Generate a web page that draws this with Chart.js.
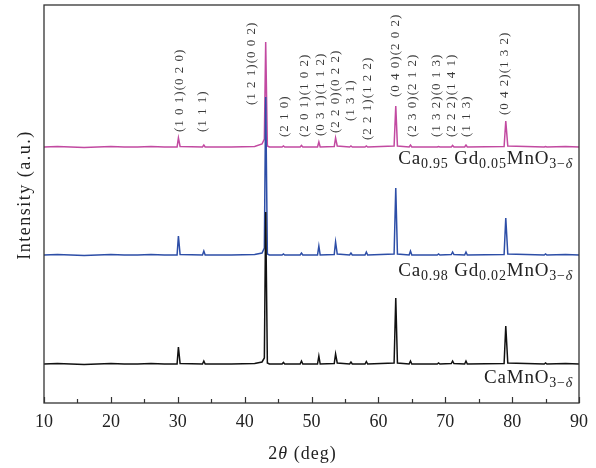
<!DOCTYPE html>
<html>
<head>
<meta charset="utf-8">
<script src="https://cdn.jsdelivr.net/npm/chart.js@4"></script>
<style>
  html, body { margin: 0; padding: 0; background: #fff; }
  #wrap { width: 596px; height: 468px; position: relative; }
</style>
</head>
<body>
<div id="wrap"><canvas id="c" width="596" height="468"></canvas></div>
<script>
// ---- data (2θ in degrees, intensity in arbitrary units, stacked traces) ----
const twoTheta = [10, 12, 14, 16, 18, 20, 22, 24, 26, 28, 29.9, 30.1, 30.35, 33.7, 33.9, 34.1, 38, 41.5, 42.6, 42.95, 43.15, 43.4, 43.7,
  45.6, 45.8, 46.0, 48.3, 48.5, 48.7, 50.9, 51.1, 51.3, 53.4, 53.6, 53.85, 55.7, 55.9, 56.1, 58.0, 58.2, 58.4,
  62.35, 62.6, 62.85, 64.6, 64.8, 65.0, 68.8, 69.0, 69.2, 70.9, 71.1, 71.3, 72.9, 73.1, 73.3, 78.8, 79.05, 79.35,
  84.8, 85.0, 85.2, 88, 90];

const caMnO3 = [39, 39.5, 39, 38.5, 39, 39.5, 39, 39, 39.5, 39, 39, 56, 39.5, 39, 42, 39, 39, 39.5, 41, 45, 191, 40, 39,
  39, 40.5, 39, 39, 42, 39, 39, 47, 39, 39.5, 49, 40, 39, 41, 39, 39, 41.5, 39,
  40, 105, 40, 39, 42, 39, 39, 40, 39, 39.5, 42, 39.5, 39, 42, 39, 39.5, 77, 40,
  39, 40, 39, 39.5, 39];

const ca098Gd002 = [148, 148.5, 148, 147.5, 148, 148.5, 148, 148, 148.5, 148, 148, 167, 148.5, 148, 152, 148, 148, 148.5, 150, 155, 306, 149, 148,
  148, 149, 148, 148, 150, 148, 148, 157, 148, 148.5, 161, 149, 148, 150, 148, 148, 151, 148,
  149, 215, 149, 148, 152, 148, 148, 149, 148, 148.5, 151, 148.5, 148, 151, 148, 148.5, 185, 149,
  148, 149, 148, 148.5, 148];

const ca095Gd005 = [256, 256.5, 256, 255.5, 256, 256.5, 256, 256, 256.5, 256, 256, 265, 256.5, 256, 258, 256, 256, 256.5, 259, 264, 361, 257, 256,
  256, 257, 256, 256, 257.5, 256, 256, 261, 256, 256.5, 265, 257, 256, 257, 256, 256, 257, 256,
  257, 297, 257, 256, 258, 256, 256, 256.5, 256, 256, 257.5, 256, 256, 258, 256, 256.5, 282, 257,
  256, 256.5, 256, 256.5, 256];

const xTickValues = [10, 20, 30, 40, 50, 60, 70, 80, 90];

// Miller index annotations
const hklLabels = ['(1 0 1)(0 2 0)', '(1 1 1)', '(1 2 1)(0 0 2)', '(2 1 0)', '(2 0 1)(1 0 2)', '(0 3 1)(1 1 2)',
  '(2 2 0)(0 2 2)', '(1 3 1)', '(2 2 1)(1 2 2)', '(0 4 0)(2 0 2)', '(2 3 0)(2 1 2)', '(1 3 2)(0 1 3)',
  '(2 2 2)(1 4 1)', '(1 1 3)', '(0 4 2)(1 3 2)'];
const hklAngle = [30.2, 33.75, 41.0, 45.9, 49.0, 51.4, 53.6, 55.9, 58.4, 62.6, 65.1, 68.7, 70.9, 73.2, 78.8];
const hklStart = [271, 271, 298, 266, 266, 267, 270, 282, 263, 306, 266, 266, 266, 266, 288];

// sample names (rich text parts: [text, isSub, isItalic])
const sampleNames = [
  [['Ca', 0, 0], ['0.95', 1, 0], [' Gd', 0, 0], ['0.05', 1, 0], ['MnO', 0, 0], ['3−', 1, 0], ['δ', 1, 1]],
  [['Ca', 0, 0], ['0.98', 1, 0], [' Gd', 0, 0], ['0.02', 1, 0], ['MnO', 0, 0], ['3−', 1, 0], ['δ', 1, 1]],
  [['CaMnO', 0, 0], ['3−', 1, 0], ['δ', 1, 1]]
];
const sampleNameY = [239, 127, 20];

const SERIF = "'Liberation Serif', 'Times New Roman', serif";

function mk(vals) { return vals.map((v, i) => ({ x: twoTheta[i], y: v })); }

const decor = {
  id: 'decor',
  afterDatasetsDraw(chart) {
    const { ctx, chartArea: a, scales: { x, y } } = chart;
    ctx.save();
    // frame
    ctx.strokeStyle = '#333';
    ctx.lineWidth = 1.3;
    ctx.strokeRect(a.left, a.top, a.right - a.left, a.bottom - a.top);
    // inward ticks
    ctx.lineWidth = 1.2;
    for (let v = 10; v <= 90; v += 5) {
      const px = Math.round(x.getPixelForValue(v)) + 0.5;
      const len = (v % 10 === 0) ? 6 : 4;
      ctx.beginPath();
      ctx.moveTo(px, a.bottom);
      ctx.lineTo(px, a.bottom - len);
      ctx.stroke();
    }
    // hkl annotations
    ctx.fillStyle = '#3a3a3a';
    ctx.font = '13px ' + SERIF;
    ctx.letterSpacing = '1px';
    ctx.textAlign = 'left';
    ctx.textBaseline = 'middle';
    hklLabels.forEach((t, i) => {
      const px = x.getPixelForValue(hklAngle[i]);
      const py = y.getPixelForValue(hklStart[i]);
      ctx.save();
      ctx.translate(px, py);
      ctx.rotate(-Math.PI / 2);
      ctx.fillText(t, 0, 0);
      ctx.restore();
    });
    // sample names, right aligned
    ctx.fillStyle = '#222';
    ctx.textBaseline = 'alphabetic';
    ctx.letterSpacing = '0.8px';
    const right = a.right - 6;
    sampleNames.forEach((parts, i) => {
      const base = y.getPixelForValue(sampleNameY[i]);
      const fonts = parts.map(p => (p[2] ? 'italic ' : '') + (p[1] ? '14px ' : '19px ') + SERIF);
      let w = 0;
      parts.forEach((p, k) => { ctx.font = fonts[k]; w += ctx.measureText(p[0]).width; });
      let cx = right - w;
      parts.forEach((p, k) => {
        ctx.font = fonts[k];
        ctx.fillText(p[0], cx, base + (p[1] ? 4 : 0));
        cx += ctx.measureText(p[0]).width;
      });
    });
    // x title: 2θ (deg)
    ctx.letterSpacing = '1px';
    const xt = [['2', ''], ['θ', 'italic '], [' (deg)', '']];
    let tw = 0;
    xt.forEach(p => { ctx.font = p[1] + '18px ' + SERIF; tw += ctx.measureText(p[0]).width; });
    let tx = (a.left + a.right) / 2 - tw / 2 - 9;
    xt.forEach(p => { ctx.font = p[1] + '18px ' + SERIF; ctx.fillText(p[0], tx, 459); tx += ctx.measureText(p[0]).width; });
    // y title
    ctx.font = '18px ' + SERIF;
    ctx.letterSpacing = '1.5px';
    ctx.textAlign = 'center';
    ctx.save();
    ctx.translate(30, 195);
    ctx.rotate(-Math.PI / 2);
    ctx.fillText('Intensity (a.u.)', 0, 0);
    ctx.restore();
    ctx.restore();
  }
};

new Chart(document.getElementById('c'), {
  type: 'line',
  data: {
    datasets: [
      { label: 'CaMnO3−δ', data: mk(caMnO3), borderColor: '#111111', borderWidth: 1.5 },
      { label: 'Ca0.98Gd0.02MnO3−δ', data: mk(ca098Gd002), borderColor: '#2d4ea7', borderWidth: 1.5 },
      { label: 'Ca0.95Gd0.05MnO3−δ', data: mk(ca095Gd005), borderColor: '#c24aa1', borderWidth: 1.5 }
    ]
  },
  options: {
    responsive: false,
    animation: false,
    events: [],
    elements: { point: { radius: 0 }, line: { tension: 0 } },
    layout: { padding: { left: 44, right: 17, top: 5, bottom: 0 } },
    plugins: { legend: { display: false }, tooltip: { enabled: false } },
    scales: {
      x: {
        type: 'linear', min: 10, max: 90,
        afterBuildTicks: s => { s.ticks = xTickValues.map(v => ({ value: v })); },
        afterFit: s => { s.height = 65; },
        grid: { display: false, drawTicks: false },
        border: { display: false },
        ticks: { padding: 8, color: '#222', font: { family: SERIF, size: 18 } }
      },
      y: {
        display: false, min: 0, max: 398
      }
    }
  },
  plugins: [decor]
});
</script>
</body>
</html>
